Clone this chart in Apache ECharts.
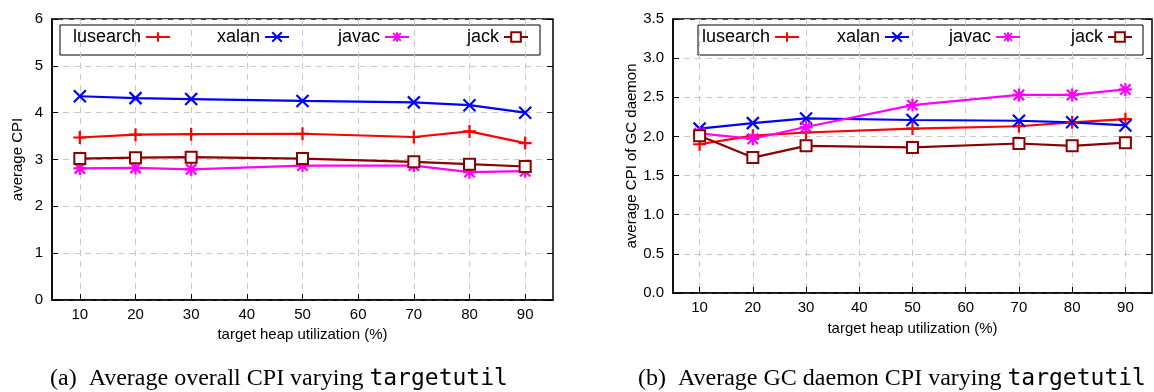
<!DOCTYPE html>
<html>
<head>
<meta charset="utf-8">
<script src="https://cdn.jsdelivr.net/npm/echarts@6/dist/echarts.min.js"></script>
<style>
  html, body { margin: 0; padding: 0; background: #fff; }
  #main { width: 1154px; height: 392px; }
</style>
</head>
<body>
<div id="main"></div>
<script>
// x positions (target heap utilization, %)
const xValues = [10, 20, 30, 50, 70, 80, 90]
const xTicks = [10, 20, 30, 40, 50, 60, 70, 80, 90]
const seriesNames = ['lusearch', 'xalan', 'javac', 'jack']

// (a) average overall CPI
const cpiLusearch = [3.47, 3.53, 3.54, 3.55, 3.48, 3.60, 3.35]
const cpiXalan = [4.35, 4.31, 4.29, 4.25, 4.22, 4.16, 4.00]
const cpiJavac = [2.81, 2.82, 2.79, 2.87, 2.87, 2.73, 2.75]
const cpiJack = [3.02, 3.04, 3.05, 3.02, 2.95, 2.90, 2.85]

// (b) average CPI of GC daemon
const gcLusearch = [1.90, 2.01, 2.05, 2.10, 2.13, 2.18, 2.22]
const gcXalan = [2.10, 2.17, 2.23, 2.21, 2.20, 2.18, 2.14]
const gcJavac = [2.04, 1.97, 2.12, 2.40, 2.53, 2.53, 2.60]
const gcJack = [2.01, 1.73, 1.88, 1.86, 1.91, 1.88, 1.92]

const FONT = 'Liberation Sans, Arial, sans-serif'
const plus = 'path://M5,0L5,10M0,5L10,5'
const cross = 'path://M0,0L10,10M10,0L0,10'
const star = 'path://M5,0L5,10M0,5L10,5M1,1L9,9M9,1L1,9'
const styles = {
  lusearch: { color: '#ff0000', symbol: plus, size: 13 },
  xalan: { color: '#0000ff', symbol: cross, size: 12 },
  javac: { color: '#ff00ff', symbol: star, size: 13 },
  jack: { color: '#8b0000', symbol: 'emptyRect', size: 11 },
}

function pairs(ys) {
  return xValues.map((x, i) => [x, ys[i]])
}

function makeSeries(name, ys, idx) {
  const s = styles[name]
  return {
    name: name,
    type: 'line',
    xAxisIndex: idx,
    yAxisIndex: idx * 2,
    symbol: s.symbol,
    symbolSize: s.size,
    lineStyle: { color: s.color, width: 2.2 },
    itemStyle: { color: s.color, borderColor: s.color, borderWidth: 2.2 },
    emphasis: { disabled: true },
    data: pairs(ys),
  }
}

function xAxis(gridIndex, nameGap) {
  return {
    type: 'value',
    gridIndex: gridIndex,
    min: 5,
    max: 95,
    name: 'target heap utilization (%)',
    nameLocation: 'middle',
    nameGap: nameGap,
    nameTextStyle: { color: '#000', fontSize: 15, fontFamily: FONT },
    axisLine: { lineStyle: { color: '#000', width: 1.5 } },
    axisTick: { inside: true, length: 6, customValues: xTicks, lineStyle: { color: '#000' } },
    axisLabel: { customValues: xTicks, color: '#000', fontSize: 15, fontFamily: FONT, margin: 7 },
    splitLine: { show: true, lineStyle: { color: '#c8c8c8', type: [6, 5], width: 1 } },
  }
}

function yAxes(gridIndex, max, interval, name, digits, nameGap) {
  return [
    {
      type: 'value',
      gridIndex: gridIndex,
      min: 0,
      max: max,
      interval: interval,
      name: name,
      nameLocation: 'middle',
      nameGap: nameGap,
      nameTextStyle: { color: '#000', fontSize: 15, fontFamily: FONT },
      axisLine: { show: true, lineStyle: { color: '#000', width: 1.5 } },
      axisTick: { show: true, inside: true, length: 6, lineStyle: { color: '#000' } },
      axisLabel: {
        color: '#000', fontSize: 15, fontFamily: FONT, margin: 9,
        formatter: (v) => v.toFixed(digits),
      },
      splitLine: { show: true, lineStyle: { color: '#c8c8c8', type: [6, 5], width: 1 } },
    },
    {
      type: 'value',
      gridIndex: gridIndex,
      position: 'right',
      min: 0,
      max: max,
      interval: interval,
      axisLine: { show: false },
      axisTick: { show: true, inside: true, length: 6, lineStyle: { color: '#000' } },
      axisLabel: { show: false },
      splitLine: { show: false },
    },
  ]
}

// one legend per entry so each sample sits in its own column like gnuplot
function legends(lefts, top) {
  return seriesNames.map((name, i) => ({
    data: [name],
    left: lefts[i],
    top: top,
    align: 'right',
    padding: 0,
    itemWidth: 24,
    itemHeight: 12,
    selectedMode: false,
    textStyle: { color: '#000', fontSize: 18, fontFamily: FONT },
  }))
}

const chart = echarts.init(document.getElementById('main'))
const option = {
  animation: false,
  grid: [
    { left: 52, top: 19, width: 501, height: 281, show: true, borderColor: '#000', borderWidth: 1.5 },
    { left: 673, top: 19, width: 479, height: 274, show: true, borderColor: '#000', borderWidth: 1.5 },
  ],
  xAxis: [xAxis(0, 25), xAxis(1, 28)],
  yAxis: [
    ...yAxes(0, 6, 1, 'average CPI', 0, 27),
    ...yAxes(1, 3.5, 0.5, 'average CPI of GC daemon', 1, 28),
  ],
  legend: [
    ...legends([73, 217, 338, 467], 28),
    ...legends([702, 837, 949, 1071], 28),
  ],
  graphic: [
    { type: 'rect', shape: { x: 60, y: 25, width: 480, height: 30 }, style: { fill: 'none', stroke: '#000', lineWidth: 1 } },
    { type: 'rect', shape: { x: 698, y: 25, width: 445, height: 30 }, style: { fill: 'none', stroke: '#000', lineWidth: 1 } },
  ],
  title: [
    {
      text: '(a)  Average overall CPI varying {m|targetutil}',
      left: 50, top: 367, padding: 0,
      textStyle: {
        color: '#000', fontSize: 24, fontWeight: 'normal', fontFamily: 'Liberation Serif, serif',
        rich: { m: { fontSize: 23, fontFamily: 'DejaVu Sans Mono, monospace', color: '#000' } },
      },
    },
    {
      text: '(b)  Average GC daemon CPI varying {m|targetutil}',
      left: 638, top: 367, padding: 0,
      textStyle: {
        color: '#000', fontSize: 24, fontWeight: 'normal', fontFamily: 'Liberation Serif, serif',
        rich: { m: { fontSize: 23, fontFamily: 'DejaVu Sans Mono, monospace', color: '#000' } },
      },
    },
  ],
  series: [
    makeSeries('lusearch', cpiLusearch, 0),
    makeSeries('xalan', cpiXalan, 0),
    makeSeries('javac', cpiJavac, 0),
    makeSeries('jack', cpiJack, 0),
    makeSeries('lusearch', gcLusearch, 1),
    makeSeries('xalan', gcXalan, 1),
    makeSeries('javac', gcJavac, 1),
    makeSeries('jack', gcJack, 1),
  ],
}
option && chart.setOption(option)
</script>
</body>
</html>
